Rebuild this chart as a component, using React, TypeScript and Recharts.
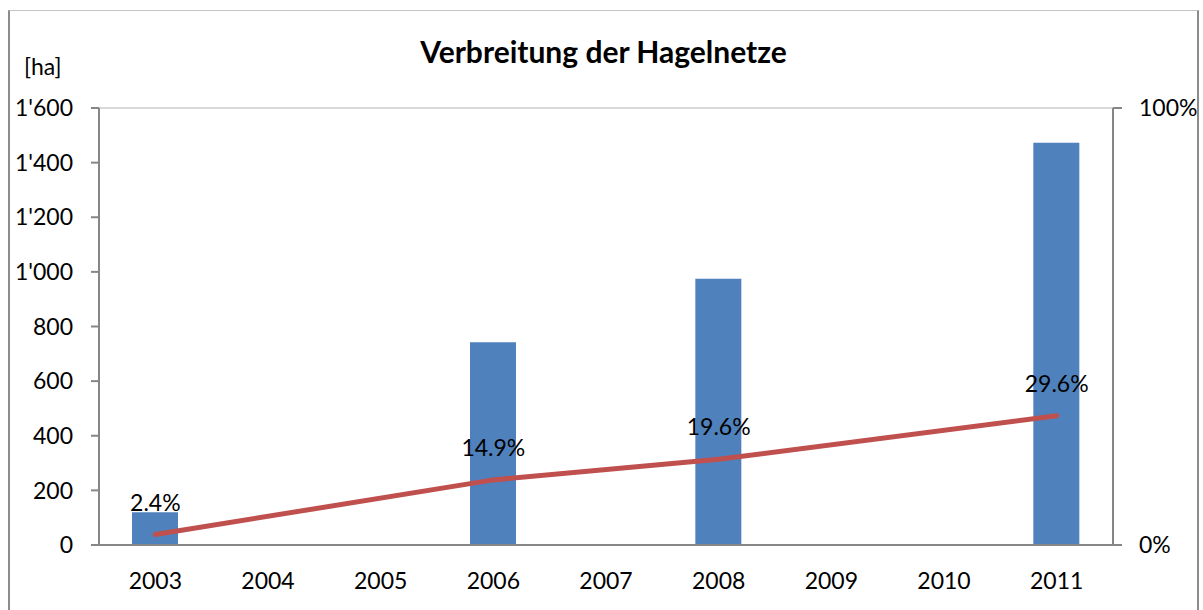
import { ComposedChart, Bar, Line, XAxis, YAxis, CartesianGrid, LabelList } from 'recharts';

const YEARS = ['2003', '2004', '2005', '2006', '2007', '2008', '2009', '2010', '2011'];
const HECTARES = [120, null, null, 742, null, 975, null, null, 1473];
const SHARE = [2.4, null, null, 14.9, null, 19.6, null, null, 29.6];
const LEFT_TICKS = [0, 200, 400, 600, 800, 1000, 1200, 1400, 1600];
const RIGHT_TICKS = [0, 100];

const data = YEARS.map((year, i) => ({ year, ha: HECTARES[i], share: SHARE[i] }));

const FONT = 'Lato, "Open Sans", sans-serif';
const AXIS = '#868686';

const fmtHa = (v: number) => v.toLocaleString('en-US').replace(',', "'");

const ShareLabel = (props: any) => {
  const { x, y, value } = props;
  if (value == null) return null;
  return (
    <text x={x} y={y - 24} textAnchor="middle" fontSize={23} fontFamily={FONT} fill="#000">
      {value.toFixed(1)}%
    </text>
  );
};

export default function App() {
  return (
    <div
      style={{
        position: 'absolute',
        left: 8,
        top: 10,
        width: 1187,
        height: 620,
        borderLeft: '2px solid #8c8c8c',
        borderTop: '1px solid #c4c4c4',
        borderRight: '2px solid #8c8c8c',
        fontFamily: FONT,
        background: '#fff',
      }}
    >
      <div
        style={{
          position: 'absolute',
          left: 0,
          right: 0,
          top: 22,
          textAlign: 'center',
          fontSize: 30,
          fontWeight: 700,
          color: '#000',
        }}
      >
        Verbreitung der Hagelnetze
      </div>
      <div style={{ position: 'absolute', left: 14, top: 41, fontSize: 23, color: '#000' }}>[ha]</div>
      <ComposedChart
        width={1187}
        height={599}
        data={data}
        margin={{ top: 97, right: 0, bottom: 0, left: 0 }}
        barCategoryGap={0}
      >
        <CartesianGrid vertical={false} stroke="#d9d9d9" strokeWidth={2} />
        <XAxis
          dataKey="year"
          axisLine={{ stroke: AXIS, strokeWidth: 2 }}
          tickLine={false}
          tickMargin={22}
          height={65}
          tick={{ fontSize: 23, fill: '#000', fontFamily: FONT }}
        />
        <YAxis
          yAxisId="left"
          width={89}
          domain={[0, 1600]}
          ticks={LEFT_TICKS}
          tickFormatter={fmtHa}
          axisLine={{ stroke: AXIS, strokeWidth: 2 }}
          tickLine={{ stroke: AXIS, strokeWidth: 2 }}
          tickSize={8}
          tickMargin={18}
          tick={{ fontSize: 23, fill: '#000', fontFamily: FONT }}
        />
        <YAxis
          yAxisId="right"
          orientation="right"
          width={84}
          domain={[0, 100]}
          ticks={RIGHT_TICKS}
          tickFormatter={(v: number) => `${v}%`}
          axisLine={{ stroke: AXIS, strokeWidth: 2 }}
          tickLine={{ stroke: AXIS, strokeWidth: 2 }}
          tickSize={9}
          tickMargin={17}
          tick={{ fontSize: 23, fill: '#000', fontFamily: FONT }}
        />
        <Bar yAxisId="left" dataKey="ha" fill="#4f81bd" barSize={46} isAnimationActive={false} />
        <Line
          yAxisId="right"
          dataKey="share"
          stroke="#c0504d"
          strokeWidth={5}
          strokeLinecap="round"
          dot={false}
          activeDot={false}
          connectNulls
          isAnimationActive={false}
        >
          <LabelList dataKey="share" content={<ShareLabel />} />
        </Line>
      </ComposedChart>
    </div>
  );
}
